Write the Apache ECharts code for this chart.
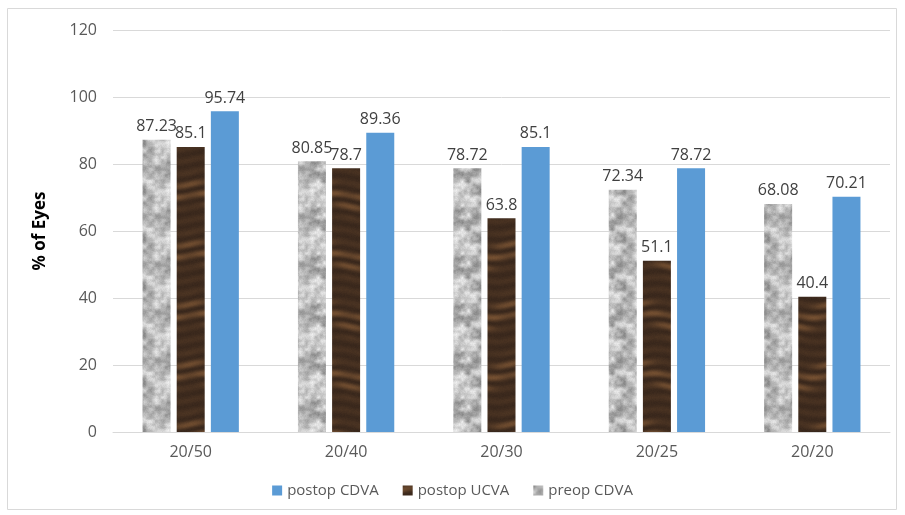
<!DOCTYPE html>
<html><head><meta charset="utf-8">
<script src="https://cdn.jsdelivr.net/npm/echarts@6/dist/echarts.min.js"></script>
<style>html,body{margin:0;padding:0;background:#fff}#c{width:905px;height:515px}</style>
</head><body><div id="c"></div>
<script>
const categories = ['20/50','20/40','20/30','20/25','20/20'];
const preopCDVA = [87.23, 80.85, 78.72, 72.34, 68.08];
const postopUCVA = [85.1, 78.7, 63.8, 51.1, 40.4];
const postopCDVA = [95.74, 89.36, 85.1, 78.72, 70.21];
const legendOrder = ['postop CDVA','postop UCVA','preop CDVA'];

function hash(x, y){ const s = Math.sin(x*127.1 + y*311.7)*43758.5453; return s - Math.floor(s); }
function smooth(x, y, s, P){
  const gx = x/s, gy = y/s, x0 = Math.floor(gx), y0 = Math.floor(gy);
  const fx = gx-x0, fy = gy-y0, ux = fx*fx*(3-2*fx), uy = fy*fy*(3-2*fy);
  const m = P/s;
  const h = (a,b)=>hash(((a%m)+m)%m, ((b%m)+m)%m);
  const a = h(x0,y0), b = h(x0+1,y0), c = h(x0,y0+1), d = h(x0+1,y0+1);
  return (a*(1-ux)+b*ux)*(1-uy) + (c*(1-ux)+d*ux)*uy;
}
function granite(){
  const P = 48;
  const c = document.createElement('canvas'); c.width = P; c.height = P;
  const g = c.getContext('2d'); const img = g.createImageData(P,P);
  for (let y=0;y<P;y++) for (let x=0;x<P;x++){
    const n = 0.6*smooth(x,y,6,P) + 0.3*smooth(x+3,y+5,3,P) + 0.1*hash(x,y);
    let v = 120 + n*130;
    v = Math.max(100, Math.min(240, v));
    const i=(y*P+x)*4; img.data[i]=v; img.data[i+1]=v; img.data[i+2]=v; img.data[i+3]=255;
  }
  g.putImageData(img,0,0); return c;
}
function wood(){
  const W = 64, H = 120;
  const c = document.createElement('canvas'); c.width = W; c.height = H;
  const g = c.getContext('2d'); const img = g.createImageData(W,H);
  for (let y=0;y<H;y++) for (let x=0;x<W;x++){
    const px = x*2*Math.PI/W, py = y*2*Math.PI/H;
    const s = Math.sin(py*10 + Math.sin(px)*1.2)*0.5+0.5;
    const t = Math.pow(Math.sin(py*2 + Math.cos(px)*0.8)*0.5+0.5, 3);
    const f = 0.12*s + 0.4*t*s + 0.05*hash(x,y);
    const r = 55 + f*110, gg = 38 + f*75, bb = 27 + f*40;
    const i=(y*W+x)*4; img.data[i]=r; img.data[i+1]=gg; img.data[i+2]=bb; img.data[i+3]=255;
  }
  g.putImageData(img,0,0); return c;
}
const chart = echarts.init(document.getElementById('c'));
const lbl = {show:true, position:'top', color:'#404040', fontSize:16, fontFamily:'Open Sans, sans-serif', distance:5};
chart.setOption({
  animation:false,
  textStyle:{fontFamily:'Open Sans, sans-serif'},
  graphic:[{type:'rect', shape:{x:7.5,y:8.5,width:889,height:501}, style:{fill:'none', stroke:'#d9d9d9', lineWidth:1}, silent:true}],
  grid:{left:113, right:15, top:30, bottom:83},
  legend:{data:legendOrder, bottom:12, left:'center', itemWidth:10, itemHeight:10, itemGap:24,
    textStyle:{color:'#595959', fontSize:15}, icon:'rect'},
  xAxis:{type:'category', data:categories, axisLine:{lineStyle:{color:'#d9d9d9'}}, axisTick:{show:false},
    axisLabel:{color:'#595959', fontSize:16, margin:12}},
  yAxis:{type:'value', min:0, max:120, interval:20, name:'% of Eyes', nameLocation:'middle', nameGap:64,
    nameTextStyle:{color:'#000', fontSize:17, fontWeight:'bold'},
    axisLabel:{color:'#595959', fontSize:16, margin:16},
    splitLine:{lineStyle:{color:'#d9d9d9'}}, axisLine:{show:false}, axisTick:{show:false}},
  series:[
    {name:'preop CDVA', type:'bar', data:preopCDVA, barWidth:28, barGap:'22%',
      itemStyle:{color:{image:granite(), repeat:'repeat'}}, label:lbl},
    {name:'postop UCVA', type:'bar', data:postopUCVA, barWidth:28, barGap:'22%',
      itemStyle:{color:{image:wood(), repeat:'repeat'}}, label:lbl},
    {name:'postop CDVA', type:'bar', data:postopCDVA, barWidth:28, barGap:'22%',
      itemStyle:{color:'#5b9bd5'}, label:lbl}
  ]
});
</script></body></html>
